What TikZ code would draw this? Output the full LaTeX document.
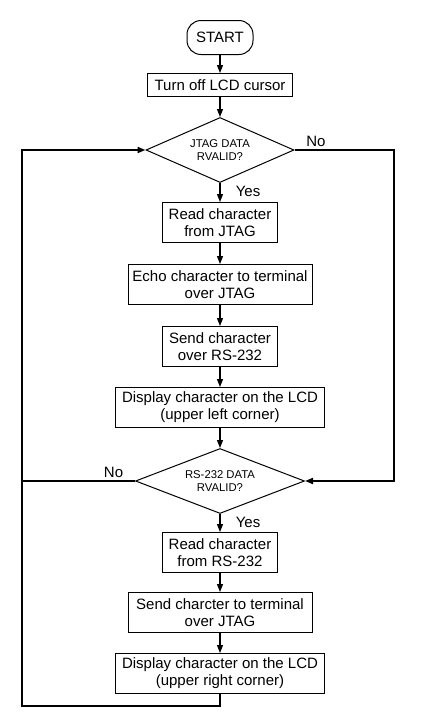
\documentclass[tikz,border=0pt]{standalone}
\usepackage{fontspec}
\setmainfont{Liberation Sans}
\usetikzlibrary{positioning,arrows.meta,shapes.geometric}

\begin{document}
\begin{tikzpicture}[x=1pt, y=-1pt, >={Triangle[length=8pt,width=6pt]},
  font=\fontsize{15}{17}\selectfont, line width=1pt,
  box/.style={draw, align=center, minimum height=40pt, inner sep=2pt},
  term/.style={draw, rounded corners=14pt, minimum width=66pt, minimum height=34pt},
  dec/.style={draw, diamond, minimum height=65pt, inner sep=0pt, align=center,
    font=\fontsize{11.3}{13.3}\selectfont},
  flow/.style={->, line width=1.3pt},
  back/.style={->, line width=1.8pt}]
  \useasboundingbox (0,0) rectangle (443,721);

  \node[term] (start) at (220,37.5) {START};
  \node[box, minimum width=145pt, minimum height=23pt, below=18pt of start] (lcdoff) {Turn off LCD cursor};
  \node[dec, minimum width=148pt, aspect=2.26, below=20pt of lcdoff] (jtag) {JTAG DATA\\RVALID?};
  \node[box, minimum width=115pt, below=19pt of jtag] (readj) {Read character\\from JTAG};
  \node[box, minimum width=184pt, below=21pt of readj] (echo) {Echo character to terminal\\over JTAG};
  \node[box, minimum width=115pt, below=21pt of echo] (sendrs) {Send character\\over RS-232};
  \node[box, minimum width=209pt, below=20pt of sendrs] (displ) {Display character on the LCD\\(upper left corner)};
  \node[dec, minimum width=169pt, aspect=2.58, below=20pt of displ] (rs) {RS-232 DATA\\RVALID?};
  \node[box, minimum width=115pt, below=18pt of rs] (readrs) {Read character\\from RS-232};
  \node[box, minimum width=184pt, below=19pt of readrs] (sendj) {Send charcter to terminal\\over JTAG};
  \node[box, minimum width=209pt, below=20pt of sendj] (dispr) {Display character on the LCD\\(upper right corner)};

  % labels of the decisions
  \node[above right, xshift=8pt] (jno) at (jtag.east) {No};
  \node[below right, xshift=12pt, yshift=1pt] (jyes) at (jtag.south) {Yes};
  \node[above left, xshift=-8pt] (rno) at (rs.west) {No};
  \node[below right, xshift=12pt, yshift=1pt] (ryes) at (rs.south) {Yes};

  % main column
  \foreach \a/\b in {start/lcdoff, lcdoff/jtag, jtag/readj, readj/echo, echo/sendrs,
    sendrs/displ, displ/rs, rs/readrs, readrs/sendj, sendj/dispr}
    \draw[flow] (\a) -- (\b);

  % loops
  \coordinate (botleft) at (22,706);
  \coordinate (rgt) at (394,0);
  \draw[back] (dispr.south) |- (botleft) |- (jtag.west);
  \draw[back] (jtag.east) -| (rgt |- rs.east) -- (rs.east);
  \draw[back, -] (rs.west) -- (rs.west -| botleft);
\end{tikzpicture}
\end{document}
